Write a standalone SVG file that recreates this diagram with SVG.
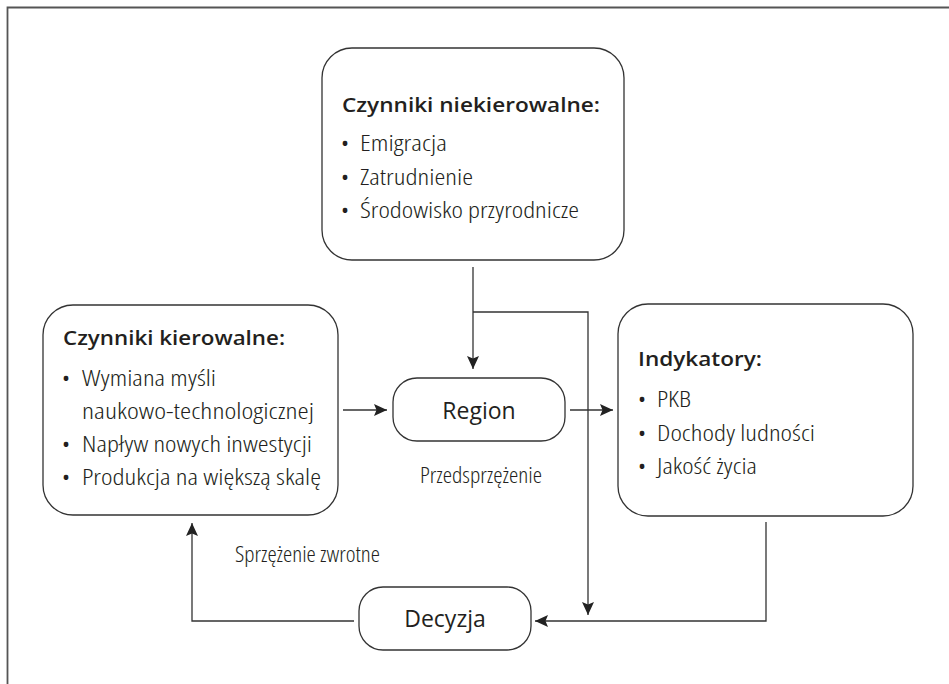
<svg xmlns="http://www.w3.org/2000/svg" width="949" height="684" viewBox="0 0 949 684">
<defs>
<style>
.box{fill:#fff;stroke:#333;stroke-width:1.3}
.frame{fill:none;stroke:#555;stroke-width:1.8}
.con{fill:none;stroke:#333;stroke-width:1.3}
.title{font-family:"Open Sans","Noto Sans",sans-serif;font-weight:600;font-size:20px;fill:#231f20}
.item{font-family:"Open Sans","Noto Sans",sans-serif;font-weight:300;font-stretch:condensed;font-size:22px;fill:#231f20}
.node{font-family:"Open Sans","Noto Sans",sans-serif;font-weight:400;font-size:23px;fill:#231f20;text-anchor:middle}
</style>
<marker id="arr" viewBox="0 0 13 12" refX="13" refY="6" markerWidth="13" markerHeight="12" markerUnits="userSpaceOnUse" orient="auto">
<path d="M0,0 L13,6 L0,12 L2.5,6 Z" fill="#222"/>
</marker>
</defs>
<rect width="949" height="684" fill="#fff"/>
<path class="frame" d="M7.5,684 V7.5 H949"/>

<g id="n-niekierowalne">
<rect class="box" x="322" y="48" width="302" height="212" rx="30"/>
<text class="title" x="342" y="112" textLength="258" lengthAdjust="spacingAndGlyphs">Czynniki niekierowalne:</text>
<text class="item" x="341" y="151">•</text>
<text class="item" x="360" y="151" textLength="87" lengthAdjust="spacingAndGlyphs">Emigracja</text>
<text class="item" x="341" y="185">•</text>
<text class="item" x="360" y="185" textLength="113" lengthAdjust="spacingAndGlyphs">Zatrudnienie</text>
<text class="item" x="341" y="218">•</text>
<text class="item" x="360" y="218" textLength="219" lengthAdjust="spacingAndGlyphs">Środowisko przyrodnicze</text>
</g>

<g id="n-kierowalne">
<rect class="box" x="43" y="305" width="295" height="210" rx="30"/>
<text class="title" x="63" y="345" textLength="222" lengthAdjust="spacingAndGlyphs">Czynniki kierowalne:</text>
<text class="item" x="62" y="386">•</text>
<text class="item" x="82" y="386" textLength="134" lengthAdjust="spacingAndGlyphs">Wymiana myśli</text>
<text class="item" x="82" y="419" textLength="232" lengthAdjust="spacingAndGlyphs">naukowo-technologicznej</text>
<text class="item" x="62" y="452">•</text>
<text class="item" x="82" y="452" textLength="230" lengthAdjust="spacingAndGlyphs">Napływ nowych inwestycji</text>
<text class="item" x="62" y="485">•</text>
<text class="item" x="82" y="485" textLength="239" lengthAdjust="spacingAndGlyphs">Produkcja na większą skalę</text>
</g>

<g id="n-indykatory">
<rect class="box" x="618" y="304" width="295" height="212" rx="30"/>
<text class="title" x="638" y="366" textLength="124" lengthAdjust="spacingAndGlyphs">Indykatory:</text>
<text class="item" x="638" y="407">•</text>
<text class="item" x="657" y="407" textLength="34" lengthAdjust="spacingAndGlyphs">PKB</text>
<text class="item" x="638" y="441">•</text>
<text class="item" x="657" y="441" textLength="158" lengthAdjust="spacingAndGlyphs">Dochody ludności</text>
<text class="item" x="638" y="474">•</text>
<text class="item" x="657" y="474" textLength="100" lengthAdjust="spacingAndGlyphs">Jakość życia</text>
</g>

<g id="n-region">
<rect class="box" x="393" y="378" width="172" height="63" rx="24"/>
<text class="node" x="479" y="419">Region</text>
</g>

<g id="n-decyzja">
<rect class="box" x="359" y="587" width="172" height="63" rx="24"/>
<text class="node" x="445" y="627">Decyzja</text>
</g>

<g id="connectors">
<path class="con" d="M343,410 H387" marker-end="url(#arr)"/>
<path class="con" d="M570,410 H613" marker-end="url(#arr)"/>
<path class="con" d="M473,267 V369" marker-end="url(#arr)"/>
<path class="con" d="M473,312 H588 V615" marker-end="url(#arr)"/>
<path class="con" d="M766,522 V621 H535" marker-end="url(#arr)"/>
<path class="con" d="M354,621 H192 V523" marker-end="url(#arr)"/>
</g>

<g id="labels">
<text class="item" x="420" y="483" textLength="122" lengthAdjust="spacingAndGlyphs">Przedsprzężenie</text>
<text class="item" x="235" y="562" textLength="145" lengthAdjust="spacingAndGlyphs">Sprzężenie zwrotne</text>
</g>
</svg>
